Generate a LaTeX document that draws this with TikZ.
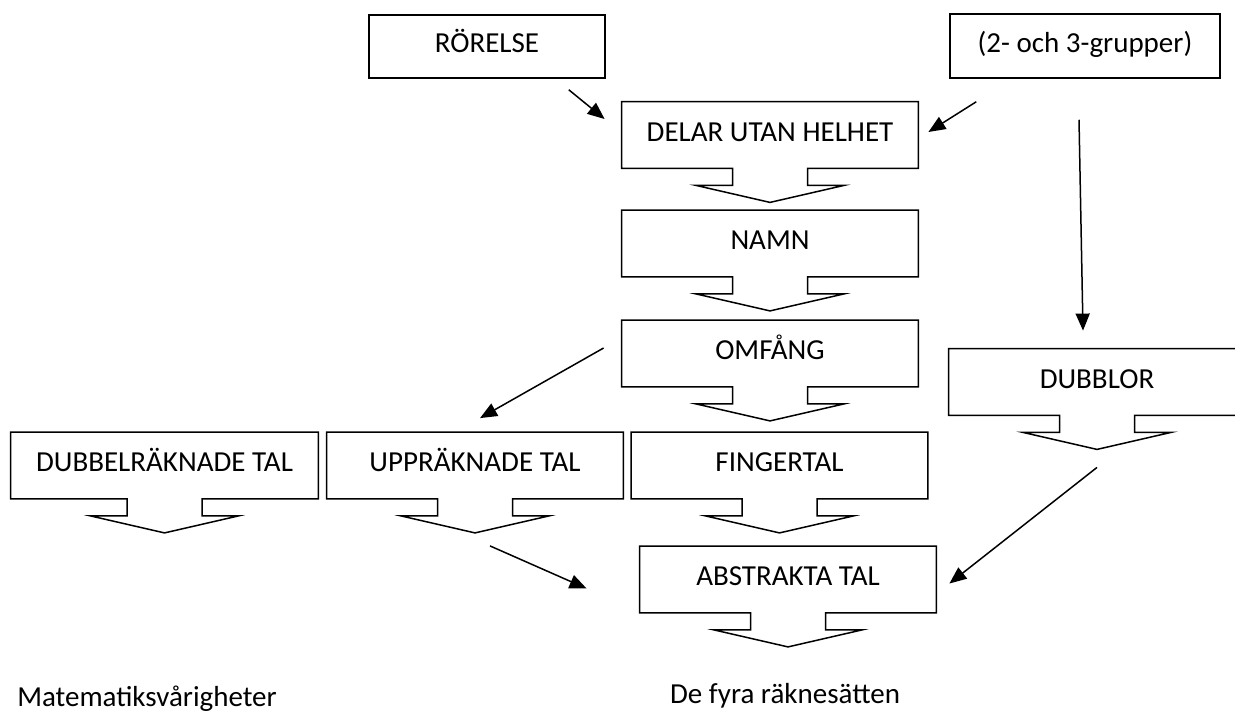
\documentclass[tikz,border=0pt]{standalone}
\usepackage{fontspec}
\setmainfont{Carlito}
\usetikzlibrary{calc,arrows.meta}

\tikzset{
  box/.style={rectangle, minimum width=148pt, minimum height=33pt, inner sep=0pt,
    text height=9.3pt, text depth=3pt, font=\fontsize{14.5}{17}\selectfont},
  plainbox/.style={box, draw, line width=0.75pt},
  tab/.style={line width=0.75pt, line join=miter},
  conn/.style={line width=0.75pt, -{Triangle[length=8.5pt,width=7pt]}},
  caption/.style={font=\fontsize{14.5}{17}\selectfont, anchor=base}
}

% rectangle with a broad arrow hanging under it
\newcommand{\downbox}[1]{%
  \draw[tab] ($(#1.south)+(-37.5,0)$) -- (#1.south west) -- (#1.north west)
    -- (#1.north east) -- (#1.south east) -- ($(#1.south)+(37.5,0)$)
    -- ($(#1.south)+(37.5,17)$) -- ($(#1.south)+(74,17)$) -- ($(#1.south)+(0,34)$)
    -- ($(#1.south)+(-74,17)$) -- ($(#1.south)+(-37.5,17)$) -- cycle;}

\begin{document}
\begin{tikzpicture}[x=0.5pt,y=-0.5pt]
\useasboundingbox (0,0) rectangle (1235,713);

% top row
\node[plainbox, minimum width=118pt, minimum height=31.5pt] (rorelse) at (487,46.5) {RÖRELSE};
\node[plainbox, minimum width=135pt, minimum height=32pt] (grupper) at (1085,46) {(2- och 3-grupper)};

% middle column
\node[box] (delar) at (770,135) {DELAR UTAN HELHET};
\node[box] (namn) at (770,243.5) {NAMN};
\node[box] (omfang) at (770,353.5) {OMFÅNG};
\node[box] (finger) at (779.5,465.5) {FINGERTAL};
\node[box] (abstrakt) at (788,579.5) {ABSTRAKTA TAL};

% left and right
\node[box, minimum width=153.5pt] (dubbel) at (164.5,465.5) {DUBBELRÄKNADE TAL};
\node[box] (upp) at (475,465.5) {UPPRÄKNADE TAL};
\node[box] (dubblor) at (1097,382) {DUBBLOR};

\foreach \n in {delar,namn,omfang,finger,abstrakt,dubbel,upp,dubblor}
  \downbox{\n};

% connectors
\draw[conn] ([shift={(-37,11)}]rorelse.south east) -- ([shift={(-17,-16)}]delar.west);
\draw[conn] ([shift={(27,23)}]grupper.south west) -- ([shift={(10,-3)}]delar.east);
\draw[conn] ([shift={(-6,41)}]grupper.south) -- ([shift={(-14,-18)}]dubblor.north);
\draw[conn] ([shift={(-18,-5.5)}]omfang.west) -- ([shift={(5,-14)}]upp.north);
\draw[conn] ([shift={(15,47)}]upp.south) -- ([shift={(-53,9)}]abstrakt.west);
\draw[conn] ([shift={(0,52)}]dubblor.south) -- ([shift={(13,4)}]abstrakt.east);

% captions
\node[caption] (fyra) at (785,703) {De fyra räknesätten};
\node[caption] (svar) at (147,706) {Matematiksvårigheter};
\end{tikzpicture}
\end{document}
